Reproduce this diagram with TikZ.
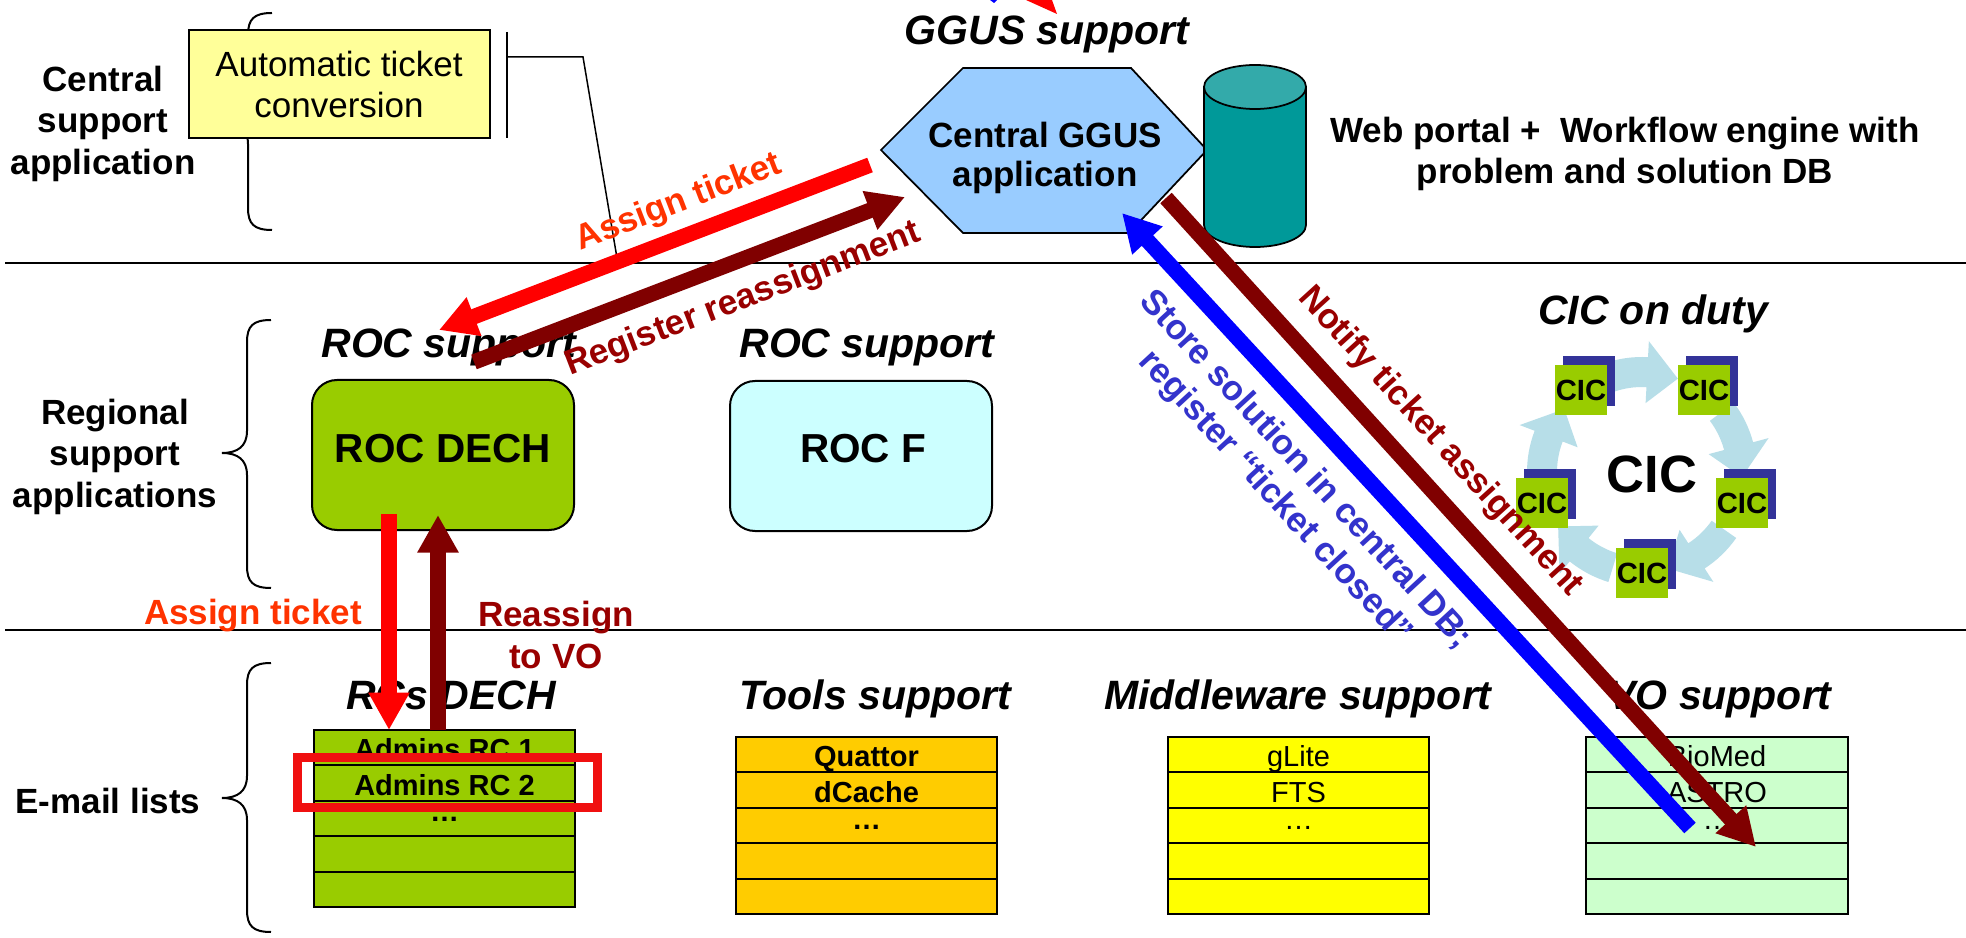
\documentclass[tikz,border=0pt]{standalone}
\usepackage{fontspec}
\setmainfont{Liberation Sans}
\usetikzlibrary{arrows.meta}

\definecolor{boxyellow}{HTML}{FFFF99}
\definecolor{hexblue}{HTML}{99CCFF}
\definecolor{dbteal}{HTML}{009999}
\definecolor{dbtop}{HTML}{33AAAA}
\definecolor{rocgreen}{HTML}{99CC00}
\definecolor{roccyan}{HTML}{CCFFFF}
\definecolor{cicshadow}{HTML}{333399}
\definecolor{ringblue}{HTML}{B7DEE8}
\definecolor{toolsorange}{HTML}{FFCC00}
\definecolor{mwyellow}{HTML}{FFFF00}
\definecolor{vogreen}{HTML}{CCFFCC}
\definecolor{arrowred}{HTML}{FF0000}
\definecolor{arrowdark}{HTML}{800000}
\definecolor{arrowblue}{HTML}{0000FF}
\definecolor{txtorange}{HTML}{FF3300}
\definecolor{txtdark}{HTML}{990000}
\definecolor{txtblue}{HTML}{3333CC}
\definecolor{markred}{HTML}{F01010}

% curly brace opening to the right: x of stem, top, tip, bottom
\newcommand\sidebrace[4]{%
  \draw[bracestyle] (#1+24,#2) .. controls (#1+6,#2) and (#1,#2+6) .. (#1,#2+22)
    -- (#1,#3-22) .. controls (#1,#3-7) and (#1-9,#3) .. (#1-25,#3)
    .. controls (#1-9,#3) and (#1,#3+7) .. (#1,#3+22)
    -- (#1,#4-22) .. controls (#1,#4-6) and (#1+6,#4) .. (#1+24,#4);}

% CIC tile with its offset shadow: name, x, y
\newcommand\cictile[3]{%
  \fill[cicshadow] (#2-18,#3-34) rectangle (#2+34,#3+16);
  \node[cic] (#1) at (#2,#3) {CIC};}

% curved arrow of the duty ring, leaving the tile at angle #1
\newcommand\ringarrow[1]{%
  \fill[ringblue] ([shift={(1642,472)}]{#1+17}:115)
    arc[start angle={#1+17}, end angle={#1+39}, radius=115]
    -- ([shift={(1642,472)}]{#1+39}:131)
    -- ([shift={(1642,472)}]{#1+57}:100)
    -- ([shift={(1642,472)}]{#1+39}:69)
    -- ([shift={(1642,472)}]{#1+39}:85)
    arc[start angle={#1+39}, end angle={#1+17}, radius=85] -- cycle;}

% five-row list: left, right, top, fill
\newcommand\listrows[4]{%
  \foreach \rowi in {0,...,4}
    \draw[listline, fill=#4] (#1,{#3+\rowi*35.4}) rectangle (#2,{#3+(\rowi+1)*35.4});}

\begin{document}
\begin{tikzpicture}[x=0.4pt, y=-0.4pt,
  bracestyle/.style={line width=0.8pt, draw=black},
  sepline/.style={line width=0.9pt, draw=black},
  thinline/.style={line width=0.6pt, draw=black},
  listline/.style={line width=0.8pt, draw=black},
  lbl/.style={inner sep=0pt, anchor=base, font=\fontsize{14}{16.6}\selectfont\bfseries},
  plain/.style={inner sep=0pt, anchor=base, font=\fontsize{14}{16.6}\selectfont},
  head/.style={inner sep=0pt, anchor=base, font=\fontsize{16.4}{19}\selectfont\bfseries\itshape},
  big/.style={inner sep=0pt, anchor=base, font=\fontsize{16.2}{19}\selectfont\bfseries},
  rowbold/.style={inner sep=0pt, anchor=base, font=\fontsize{11.6}{13}\selectfont\bfseries},
  rowplain/.style={inner sep=0pt, anchor=base, font=\fontsize{11.6}{13}\selectfont},
  rotlbl/.style={inner sep=0pt, font=\fontsize{14}{16.6}\selectfont\bfseries},
  cic/.style={fill=rocgreen, inner sep=0pt, minimum width=20.8pt, minimum height=20pt,
    font=\fontsize{11.7}{12}\selectfont\bfseries},
  panel/.style={draw=black, line width=0.8pt, inner sep=0pt},
  rocbox/.style={panel, rounded corners=10pt, minimum width=104.8pt, minimum height=60pt},
  flowarrow/.style={line width=6.2pt, -{Triangle[length=15pt,width=15.5pt]}}
]
\path[use as bounding box, fill=white] (0,0) rectangle (1966,938);

% band separators
\draw[sepline] (5,263) -- (1966,263);
\draw[sepline] (5,630) -- (1966,630);

% band captions and braces
\sidebrace{248}{13}{122}{230}
\sidebrace{247}{320}{453}{588}
\sidebrace{247}{663}{798}{932}
\node[lbl] (csa1) at (103,92) {Central};
\node[lbl] (csa2) at (103,133) {support};
\node[lbl] (csa3) at (103,175) {application};
\node[lbl] (rsa1) at (115,425) {Regional};
\node[lbl] (rsa2) at (115,466) {support};
\node[lbl] (rsa3) at (115,508) {applications};
\node[lbl] (eml) at (108,813) {E-mail lists};

% automatic ticket conversion with its callout
\node[panel, fill=boxyellow, minimum width=120.4pt, minimum height=43.2pt] (atc) at (339.5,84) {};
\node[plain] (atc1) at (339,77) {Automatic ticket};
\node[plain] (atc2) at (339,118) {conversion};
\coordinate (barT) at (507,32);
\coordinate (barB) at (507,138);
\coordinate (barM) at (507,57);
\coordinate (bendP) at (583,57);
\coordinate (calloutEnd) at (617,258);
\draw[thinline] (barT) -- (barB);
\draw[thinline] (barM) -- (bendP) -- (calloutEnd);

% arrow tips entering from above
\fill[arrowred] (1026,0) -- (1052,0) -- (1057,14) -- cycle;
\fill[arrowblue] (990,0) -- (997,0) -- (994,3) -- cycle;

% central GGUS application
\node[head] (ggushead) at (1047,45) {GGUS support};
\filldraw[fill=hexblue, draw=black, line width=0.7pt]
  (963,68) -- (1131,68) -- (1207,150) -- (1129,233) -- (963,233) -- (881,150) -- cycle;
\node[lbl] (ggus1) at (1045,148) {Central GGUS};
\node[lbl] (ggus2) at (1045,187) {application};

% database cylinder
\filldraw[fill=dbteal, draw=black, line width=0.7pt]
  (1204,87) -- (1204,225) arc[start angle=180, end angle=0, x radius=51, y radius=22]
  -- (1306,87) -- cycle;
\filldraw[fill=dbtop, draw=black, line width=0.7pt] (1255,87) ellipse [x radius=51, y radius=22];
\node[lbl] (web1) at (1625,143) {Web portal +\ \ Workflow engine with};
\node[lbl] (web2) at (1625,184) {problem and solution DB};

% regional support
\node[head] (rochead1) at (449,358) {ROC support};
\node[head] (rochead2) at (867,358) {ROC support};
\node[rocbox, fill=rocgreen] (rocdech) at (443,455) {};
\node[big] (rocdechtxt) at (443,463) {ROC DECH};
\node[rocbox, fill=roccyan] (rocf) at (861,456) {};
\node[big] (rocftxt) at (863,463) {ROC F};

% CIC on duty ring
\node[head] (cichead) at (1653,325) {CIC on duty};
\ringarrow{-126}
\ringarrow{-54}
\ringarrow{18}
\ringarrow{90}
\ringarrow{162}
\cictile{cicA}{1581}{390}
\cictile{cicB}{1704}{390}
\cictile{cicC}{1742}{503}
\cictile{cicD}{1642}{573}
\cictile{cicE}{1542}{503}
\node[inner sep=0pt, font=\fontsize{21}{24}\selectfont\bfseries] (cicmid) at (1652,474) {CIC};

% e-mail lists
\node[head] (rcshead) at (451,709) {RCs DECH};
\node[head] (toolshead) at (875,709) {Tools support};
\node[head] (mwhead) at (1298,709) {Middleware support};
\node[head] (vohead) at (1720,709) {VO support};

\listrows{314}{575}{730}{rocgreen}
\listrows{736}{997}{737}{toolsorange}
\listrows{1168}{1429}{737}{mwyellow}
\listrows{1586}{1848}{737}{vogreen}

\node[rowbold] (rc1) at (444.5,759.5) {Admins RC 1};
\node[rowbold] (rc2) at (444.5,795) {Admins RC 2};
\node[rowbold] (rc3) at (444.5,821) {…};
\node[rowbold] (tl1) at (866.5,766.5) {Quattor};
\node[rowbold] (tl2) at (866.5,802) {dCache};
\node[rowbold] (tl3) at (866.5,829) {…};
\node[rowplain] (mw1) at (1298.5,766.5) {gLite};
\node[rowplain] (mw2) at (1298.5,802) {FTS};
\node[rowplain] (mw3) at (1298.5,829) {…};
\node[rowplain] (vo1) at (1717,766.5) {BioMed};
\node[rowplain] (vo2) at (1717,802) {ASTRO};
\node[rowplain] (vo3) at (1717,829) {…};

% highlighted row
\draw[markred, line width=3.6pt] (297.5,757.5) rectangle (597.5,807.5);

% arrow captions
\node[rotlbl, text=txtorange, rotate=21] (lblassign) at (679,203) {Assign ticket};
\node[rotlbl, text=txtdark, rotate=21] (lblreg) at (743,300) {Register reassignment};
\node[rotlbl, text=txtblue, rotate=-47.3, align=center] (lblstore) at (1290,484)
  {Store solution in central DB;\\register “ticket closed”};
\node[rotlbl, text=txtdark, rotate=-47.7] (lblnotify) at (1440,442) {Notify ticket assignment};
\node[lbl, text=txtorange] (lblassign2) at (253,625) {Assign ticket};
\node[lbl, text=txtdark] (lblreassign1) at (556,627) {Reassign};
\node[lbl, text=txtdark] (lblreassign2) at (556,668) {to VO};

% flow arrows
\coordinate (assignS) at (870,165);  \coordinate (assignE) at (439,330);
\coordinate (regS) at (474,362);     \coordinate (regE) at (905,197);
\coordinate (storeS) at (1690,828);  \coordinate (storeE) at (1122,213);
\coordinate (notifyS) at (1166,198); \coordinate (notifyE) at (1756,847);
\coordinate (downS) at (389,514);    \coordinate (downE) at (389,730);
\coordinate (upS) at (438,730);      \coordinate (upE) at (438,515);
\draw[flowarrow, arrowred] (assignS) -- (assignE);
\draw[flowarrow, arrowdark] (regS) -- (regE);
\draw[flowarrow, arrowblue] (storeS) -- (storeE);
\draw[flowarrow, arrowdark] (notifyS) -- (notifyE);
\draw[flowarrow, arrowred] (downS) -- (downE);
\draw[flowarrow, arrowdark] (upS) -- (upE);
\end{tikzpicture}
\end{document}
